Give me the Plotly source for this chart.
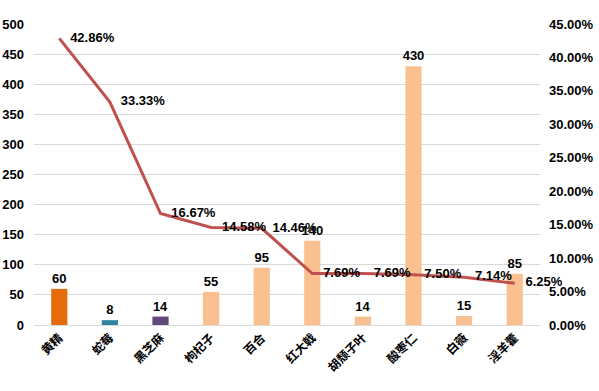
import plotly.graph_objects as go

categories = ["黄精", "蛇莓", "黑芝麻", "枸杞子", "百合", "红大戟", "胡颓子叶", "酸枣仁", "白薇", "淫羊藿"]
counts = [60, 8, 14, 55, 95, 140, 14, 430, 15, 85]
rates = [0.4286, 0.3333, 0.1667, 0.1458, 0.1446, 0.0769, 0.0769, 0.0750, 0.0714, 0.0625]
rate_labels = ["42.86%", "33.33%", "16.67%", "14.58%", "14.46%", "7.69%", "7.69%", "7.50%", "7.14%", "6.25%"]
bar_colors = ["#E46C0A", "#31849B", "#604A7B"] + ["#FAC090"] * 7
left_ticks = [0, 50, 100, 150, 200, 250, 300, 350, 400, 450, 500]
right_ticks = [0, 0.05, 0.10, 0.15, 0.20, 0.25, 0.30, 0.35, 0.40, 0.45]

lab_font = dict(family="Liberation Sans, Arial, sans-serif", size=13, color="#000000", weight="bold")

fig = go.Figure()
fig.add_trace(go.Bar(
    x=categories, y=counts, marker=dict(color=bar_colors, line=dict(width=0)),
    text=[str(v) for v in counts], textposition="outside", textfont=lab_font,
    constraintext="none", cliponaxis=False, yaxis="y", showlegend=False,
))
fig.add_trace(go.Scatter(
    x=categories, y=rates, mode="lines+text", line=dict(color="#C0504D", width=3),
    text=["   " + t for t in rate_labels], textposition="middle right", textfont=lab_font,
    cliponaxis=False, yaxis="y2", showlegend=False,
))

fig.update_layout(
    width=599, height=391,
    margin=dict(l=34, r=59, t=24, b=66),
    paper_bgcolor="white", plot_bgcolor="white",
    bargap=0.68,
    font=dict(family="Liberation Sans, Arial, sans-serif", size=13, color="#000000"),
    xaxis=dict(
        tickangle=-45, showgrid=False, showline=True, linecolor="#D9D9D9", linewidth=1,
        ticks="", automargin=False,
        tickfont=dict(family="Noto Sans CJK SC", size=12, color="#000000", weight="bold"),
    ),
    yaxis=dict(
        range=[0, 500], tickvals=left_ticks, showgrid=True, gridcolor="#D9D9D9", gridwidth=1,
        zeroline=False, ticks="", ticklabelstandoff=9, automargin=False,
        tickfont=dict(family="Liberation Sans, Arial, sans-serif", size=13, color="#000000", weight="bold"),
    ),
    yaxis2=dict(
        range=[0, 0.45], tickvals=right_ticks, tickformat=".2%", overlaying="y", side="right",
        showgrid=False, zeroline=False, ticks="", ticklabelstandoff=8, automargin=False,
        tickfont=dict(family="Liberation Sans, Arial, sans-serif", size=13, color="#000000", weight="bold"),
    ),
)

fig.write_html(
    "out.html",
    config={"displayModeBar": False},
    post_script="document.body.style.margin='0';document.body.style.overflow='hidden';",
)
